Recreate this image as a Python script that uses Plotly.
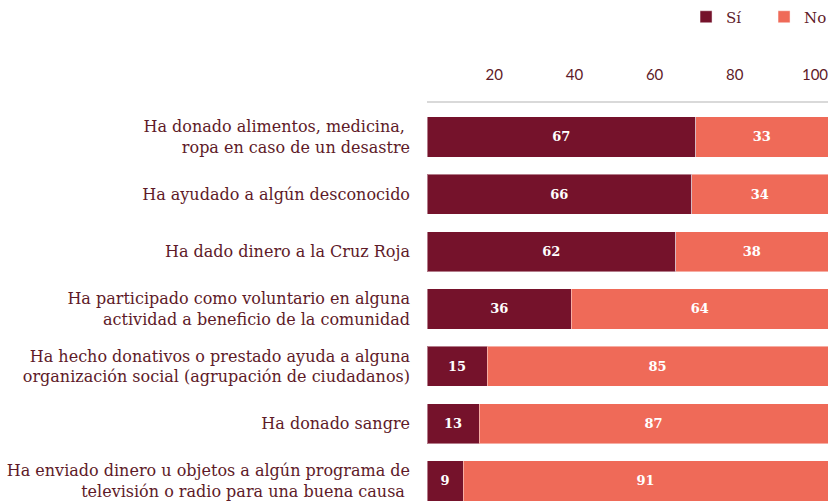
import plotly.graph_objects as go

categories = [
    "Ha donado alimentos, medicina, <br>ropa en caso de un desastre",
    "Ha ayudado a algún desconocido",
    "Ha dado dinero a la Cruz Roja",
    "Ha participado como voluntario en alguna<br>actividad a beneficio de la comunidad",
    "Ha hecho donativos o prestado ayuda a alguna<br>organización social (agrupación de ciudadanos)",
    "Ha donado sangre",
    "Ha enviado dinero u objetos a algún programa de<br>televisión o radio para una buena causa ",
]
si_values = [67, 66, 62, 36, 15, 13, 9]
no_values = [33, 34, 38, 64, 85, 87, 91]
tick_values = [20, 40, 60, 80, 100]

dark = "#75122B"
light = "#EF6A58"
text_color = "#5E1A28"
serif = "DejaVu Serif"

fig = go.Figure()
for name, vals, col in [("Sí", si_values, dark), ("No", no_values, light)]:
    fig.add_trace(go.Bar(
        y=categories, x=vals, name=name, orientation="h",
        marker=dict(color=col, line=dict(color="rgba(255,255,255,0.45)", width=1)),
        text=vals, texttemplate="%{x}", textposition="inside",
        insidetextanchor="middle", textangle=0, constraintext="none",
        textfont=dict(family=serif, size=13, color="white", weight="bold"),
        hoverinfo="skip",
    ))

fig.update_layout(
    barmode="stack",
    bargap=0.3,
    width=831, height=503,
    margin=dict(l=427, r=3, t=103, b=0, autoexpand=False),
    paper_bgcolor="white", plot_bgcolor="white",
    font=dict(family=serif, color=text_color, size=14),
    legend=dict(orientation="h", x=0.646, xanchor="left", y=1.215, yanchor="middle",
                font=dict(family=serif, size=15, color=text_color),
                itemwidth=30, entrywidth=33, entrywidthmode="pixels",
                traceorder="normal", bgcolor="rgba(0,0,0,0)"),
    uniformtext=dict(mode=False),
)
fig.update_xaxes(
    side="top", range=[0, 100], tickvals=tick_values, ticktext=[str(v) for v in tick_values],
    showgrid=False, zeroline=False, showline=True, linecolor="#D9D9D9", linewidth=2,
    ticks="", ticklabelstandoff=15, ticklabelshift=-13, ticklabeloverflow="allow",
    tickfont=dict(family="Lato", size=15, color=text_color),
)
fig.update_yaxes(
    type="category", range=[6.384, -0.593], showgrid=False, zeroline=False, showline=False,
    ticks="", ticklabelstandoff=16,
    tickfont=dict(family=serif, size=16, color=text_color),
)

fig.write_html("out.html", config={"displayModeBar": False},
               post_script="document.body.style.margin='0';")
